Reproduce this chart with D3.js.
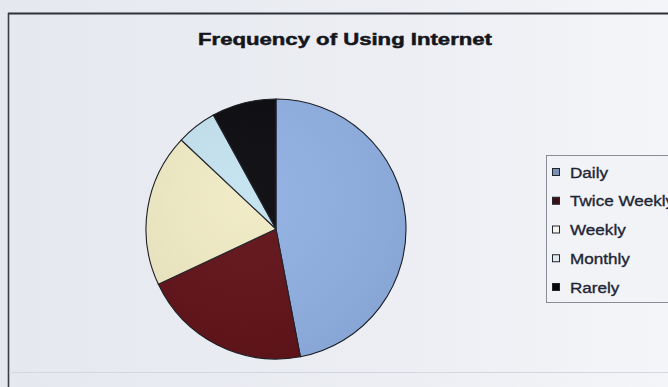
<!DOCTYPE html>
<html>
<head>
<meta charset="utf-8">
<script src="https://cdn.jsdelivr.net/npm/d3@7"></script>
<style>
  html, body { margin: 0; padding: 0; overflow: hidden; background: #eceef3; }
  svg { display: block; }
</style>
</head>
<body>
<svg id="chart" width="668" height="387"></svg>
<script>
// Survey answers: how often respondents use the Internet (percent)
const categories = ["Daily", "Twice Weekly", "Weekly", "Monthly", "Rarely"];
const values = [47, 21, 19, 5, 8];
const sliceColors = ["#8fb0e3", "#5f1016", "#f0eac4", "#c4e2f0", "#08080c"];
const legendColors = ["#7a90b6", "#3a0e12", "#f4f3ec", "#dfe9ee", "#08080c"];
const titleText = "Frequency of Using Internet";

const W = 668, H = 387;
const FONT = "'Liberation Sans', Arial, sans-serif";
const svg = d3.select("#chart");
const defs = svg.append("defs");

// paper background, a little greyer on the left
const bg = defs.append("linearGradient").attr("id", "paper")
  .attr("x1", 0).attr("y1", 0).attr("x2", 1).attr("y2", 0);
bg.append("stop").attr("offset", 0).attr("stop-color", "#e5e8ef");
bg.append("stop").attr("offset", 0.6).attr("stop-color", "#eceef3");
bg.append("stop").attr("offset", 1).attr("stop-color", "#f4f5f8");
svg.append("rect").attr("width", W).attr("height", H).attr("fill", "url(#paper)");

// chart frame: dark top and left edges, faint bottom edge
svg.append("line").attr("x1", 8).attr("x2", W).attr("y1", 13.5).attr("y2", 13.5)
  .attr("stroke", "#2e3138").attr("stroke-width", 2);
svg.append("line").attr("x1", 8.5).attr("x2", 8.5).attr("y1", 13).attr("y2", H)
  .attr("stroke", "#3a3d44").attr("stroke-width", 1.6);
svg.append("line").attr("x1", 9).attr("x2", W).attr("y1", 372.5).attr("y2", 372.5)
  .attr("stroke", "#d4d7de").attr("stroke-width", 1);

// title
svg.append("text")
  .attr("x", 345).attr("y", 45)
  .attr("text-anchor", "middle")
  .attr("textLength", 294).attr("lengthAdjust", "spacingAndGlyphs")
  .style("font-family", FONT)
  .style("font-weight", "bold").style("font-size", "17px")
  .attr("fill", "#15161c").attr("stroke", "#15161c").attr("stroke-width", 0.5)
  .text(titleText);

// pie
const cx = 276, cy = 229, r = 130;
const color = d3.scaleOrdinal().domain(categories).range(sliceColors);
const pie = d3.pie().sort(null).value(d => d.value);
const arc = d3.arc().innerRadius(0).outerRadius(r);
const data = categories.map((c, i) => ({ cat: c, value: values[i] }));

const shade = defs.append("radialGradient").attr("id", "shade")
  .attr("gradientUnits", "userSpaceOnUse")
  .attr("cx", cx - 30).attr("cy", cy - 30).attr("r", r * 1.6);
shade.append("stop").attr("offset", 0).attr("stop-color", "#fff").attr("stop-opacity", 0.05);
shade.append("stop").attr("offset", 1).attr("stop-color", "#000").attr("stop-opacity", 0.08);

const g = svg.append("g").attr("transform", `translate(${cx},${cy})`);
g.selectAll("path.slice").data(pie(data)).join("path")
  .attr("class", "slice")
  .attr("d", arc)
  .attr("fill", d => color(d.data.cat))
  .attr("stroke", "#1b1d24").attr("stroke-width", 1.1);
g.append("circle").attr("r", r).attr("fill", "url(#shade)")
  .attr("transform", `translate(${-cx},${-cy})`).attr("cx", cx).attr("cy", cy)
  .style("pointer-events", "none");

// legend
const lg = svg.append("g");
lg.append("rect").attr("x", 546.5).attr("y", 155.5).attr("width", 140).attr("height", 147)
  .attr("fill", "#f2f3f6").attr("stroke", "#8a8d96").attr("stroke-width", 1);
const rowY = d3.scalePoint().domain(categories).range([172, 287]);
const rows = lg.selectAll("g.row").data(categories).join("g").attr("class", "row")
  .attr("transform", d => `translate(0,${rowY(d)})`);
rows.append("rect").attr("x", 552.5).attr("y", -3.5).attr("width", 7).attr("height", 7)
  .attr("fill", (d, i) => legendColors[i]).attr("stroke", "#23252c").attr("stroke-width", 1);
rows.append("text")
  .attr("transform", "translate(570,5.5) scale(1.14,1)")
  .style("font-family", FONT)
  .style("font-size", "15px")
  .attr("fill", "#1d2636").attr("stroke", "#1d2636").attr("stroke-width", 0.35)
  .text(d => d);
</script>
</body>
</html>
